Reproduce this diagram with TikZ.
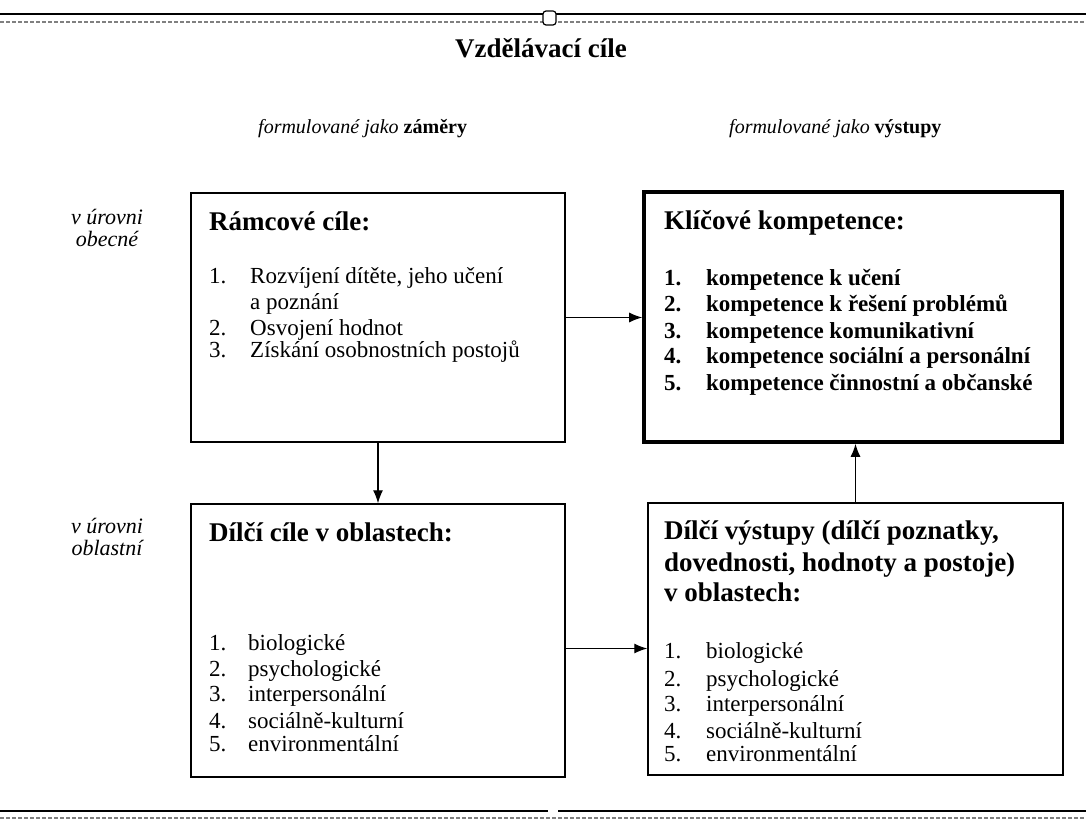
\documentclass[tikz,border=0pt]{standalone}
\usepackage{fontspec}
\setmainfont{Liberation Serif}
\usetikzlibrary{arrows.meta,fit}
\tikzset{
  box/.style={draw, line width=1.4pt, inner sep=0pt},
  thickbox/.style={draw, line width=3.6pt, inner sep=0pt},
  arr/.style={line width=1.2pt, -{Latex[length=13pt,width=10pt]}},
  ttl/.style={inner sep=0pt, anchor=base west, font=\bfseries\fontsize{27}{32}\selectfont},
  itm/.style={inner sep=0pt, anchor=base west, font=\fontsize{23}{27}\selectfont},
  itmb/.style={inner sep=0pt, anchor=base west, font=\bfseries\fontsize{23}{27}\selectfont},
  hdr/.style={inner sep=0pt, anchor=base west, font=\fontsize{20}{24}\selectfont},
  lbl/.style={inner sep=0pt, anchor=base, font=\itshape\fontsize{22}{26}\selectfont},
}
\begin{document}
\begin{tikzpicture}[x=1pt,y=-1pt]
\useasboundingbox (0,0) rectangle (1086,829);
\fill[white] (0,0) rectangle (1086,829);

% page rules
\draw[line width=1.6pt] (0,14) -- (1086,14);
\draw[line width=1.2pt, gray, dash pattern=on 4pt off 2pt] (0,22) -- (1086,22);
\draw[line width=1.2pt, fill=white, rounded corners=3pt] (543,11) rectangle (556,25);
\draw[line width=1.6pt] (0,811) -- (548,811);
\draw[line width=1.6pt] (558,811) -- (1086,811);
\draw[line width=1.2pt, gray, dash pattern=on 4pt off 2pt] (0,818) -- (1086,818);

% title and headers
\node[inner sep=0pt, anchor=base, font=\bfseries\fontsize{27}{32}\selectfont] (title) at (541,58) {Vzdělávací cíle};
\node[hdr] (hleft) at (258,134) {\textit{formulované jako} \textbf{záměry}};
\node[hdr] (hright) at (729,134) {\textit{formulované jako} \textbf{výstupy}};

% row labels
\node[lbl] (l1a) at (107,224) {v úrovni};
\node[lbl] (l1b) at (107,246) {obecné};
\node[lbl] (l2a) at (107,533) {v úrovni};
\node[lbl] (l2b) at (107,555) {oblastní};

% boxes
\node[box, fit={(191,193)(565,442)}] (ramc) {};
\node[thickbox, fit={(644,192)(1062,442)}] (klic) {};
\node[box, fit={(191,504)(565,777)}] (dilc) {};
\node[box, fit={(648,503)(1063,775)}] (dilv) {};

% Rámcové cíle
\node[ttl] (rt) at (209,230) {Rámcové cíle:};
\node[itm] (r1n) at (209,283) {1.};
\node[itm] (r1t) at (250,283) {Rozvíjení dítěte, jeho učení};
\node[itm] (r1u) at (250,309) {a poznání};
\node[itm] (r2n) at (209,335) {2.};
\node[itm] (r2t) at (250,335) {Osvojení hodnot};
\node[itm] (r3n) at (209,357) {3.};
\node[itm] (r3t) at (250,357) {Získání osobnostních postojů};

% Klíčové kompetence
\node[ttl] (kt) at (664,229) {Klíčové kompetence:};
\node[itmb] (k1n) at (664,285) {1.};
\node[itmb] (k1t) at (706,285) {kompetence k učení};
\node[itmb] (k2n) at (664,311) {2.};
\node[itmb] (k2t) at (706,311) {kompetence k řešení problémů};
\node[itmb] (k3n) at (664,338) {3.};
\node[itmb] (k3t) at (706,338) {kompetence komunikativní};
\node[itmb] (k4n) at (664,363) {4.};
\node[itmb] (k4t) at (706,363) {kompetence sociální a personální};
\node[itmb] (k5n) at (664,390) {5.};
\node[itmb] (k5t) at (706,390) {kompetence činnostní a občanské};

% Dílčí cíle
\node[ttl] (dt) at (209,541) {Dílčí cíle v oblastech:};
\node[itm] (d1n) at (209,650) {1.};
\node[itm] (d1t) at (248,650) {biologické};
\node[itm] (d2n) at (209,676) {2.};
\node[itm] (d2t) at (248,676) {psychologické};
\node[itm] (d3n) at (209,701) {3.};
\node[itm] (d3t) at (248,701) {interpersonální};
\node[itm] (d4n) at (209,728) {4.};
\node[itm] (d4t) at (248,728) {sociálně-kulturní};
\node[itm] (d5n) at (209,751) {5.};
\node[itm] (d5t) at (248,751) {environmentální};

% Dílčí výstupy
\node[ttl] (vt1) at (664,539) {Dílčí výstupy (dílčí poznatky,};
\node[ttl] (vt2) at (664,571) {dovednosti, hodnoty a postoje)};
\node[ttl] (vt3) at (664,601) {v oblastech:};
\node[itm] (v1n) at (664,658) {1.};
\node[itm] (v1t) at (706,658) {biologické};
\node[itm] (v2n) at (664,686) {2.};
\node[itm] (v2t) at (706,686) {psychologické};
\node[itm] (v3n) at (664,711) {3.};
\node[itm] (v3t) at (706,711) {interpersonální};
\node[itm] (v4n) at (664,738) {4.};
\node[itm] (v4t) at (706,738) {sociálně-kulturní};
\node[itm] (v5n) at (664,761) {5.};
\node[itm] (v5t) at (706,761) {environmentální};

% connectors
\draw[arr] (ramc.east) -- (ramc.east -| klic.west);
\draw[arr] (ramc.south) -- (ramc.south |- dilc.north);
\draw[arr] ([yshift=-8pt]dilc.east) -- ([yshift=-8pt]dilc.east -| dilv.west);
\draw[arr] (dilv.north) -- (dilv.north |- klic.south);
\end{tikzpicture}
\end{document}
